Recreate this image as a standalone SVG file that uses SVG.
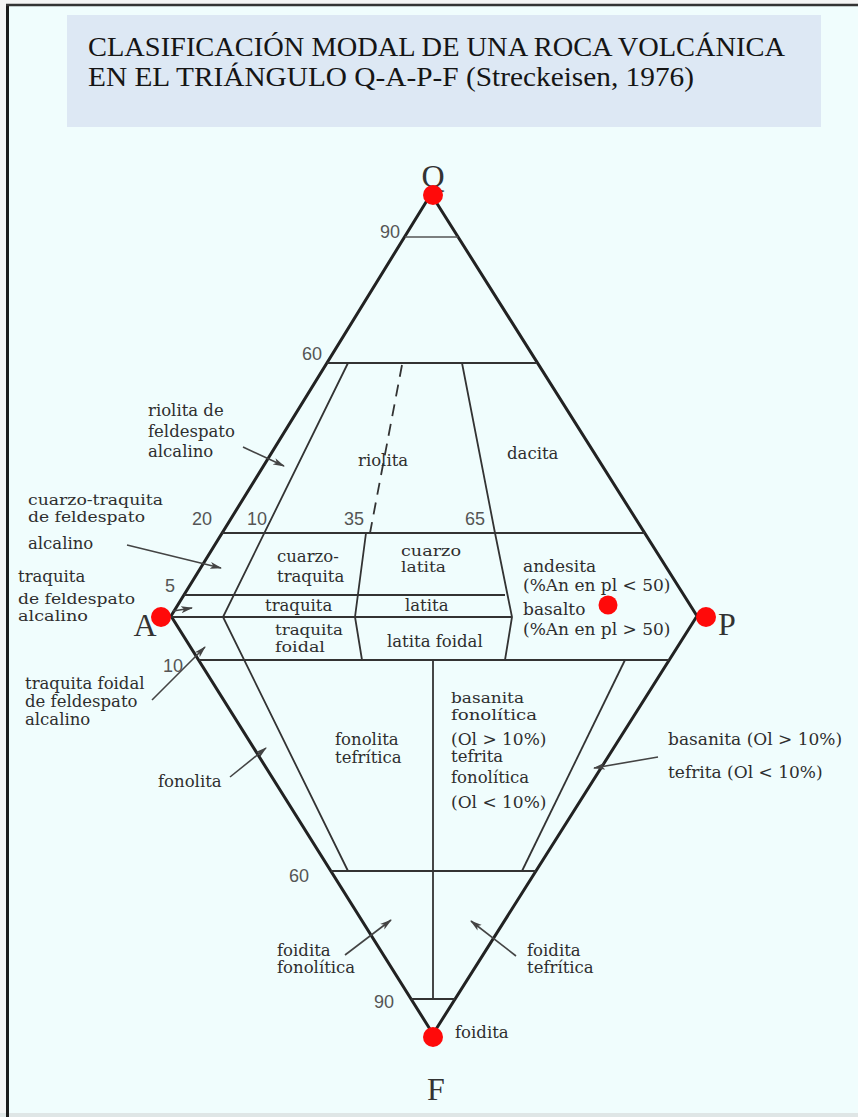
<svg xmlns="http://www.w3.org/2000/svg" width="858" height="1117" viewBox="0 0 858 1117">
  <defs>
    <marker id="ah" viewBox="0 0 12 8" refX="11" refY="4" markerWidth="12" markerHeight="8" markerUnits="userSpaceOnUse" orient="auto">
      <path d="M0,0.5 L12,4 L0,7.5 L3,4 Z" fill="#444"/>
    </marker>
    <style>
      .edge { stroke: #222; stroke-width: 3; fill: none; stroke-linecap: round; }
      .div { stroke: #333; stroke-width: 1.8; fill: none; }
      .thin { stroke: #555; stroke-width: 1.5; fill: none; }
      .dash { stroke: #333; stroke-width: 1.8; fill: none; stroke-dasharray: 12 8; }
      .arr { stroke: #444; stroke-width: 1.6; fill: none; marker-end: url(#ah); }
      .lbl { font-family: "DejaVu Serif", serif; font-size: 16.5px; fill: #2e2e2e; }
      .sm { font-family: "DejaVu Serif", serif; font-size: 15px; fill: #2e2e2e; }
      .lbr { font-family: "DejaVu Serif", serif; font-size: 17px; fill: #2e2e2e; }
      .num { font-family: "Liberation Sans", sans-serif; font-size: 18px; fill: #555; }
      .vtx { font-family: "Liberation Serif", serif; font-size: 32px; fill: #333; }
      .title { font-family: "Liberation Serif", serif; font-size: 28px; fill: #151515; }
      .dot { fill: #ff0a0a; }
    </style>
  </defs>

  <!-- frame -->
  <g id="frame">
    <rect x="0" y="0" width="858" height="1117" fill="#f0fdfd"/>
    <rect x="0" y="0" width="6" height="1117" fill="#f4f4f4"/>
    <rect x="0" y="0" width="858" height="4" fill="#f4f4f4"/>
    <rect x="0" y="1113" width="858" height="4" fill="#dfe6e6"/>
    <line x1="7.5" y1="4" x2="7.5" y2="1117" stroke="#1a1a1a" stroke-width="3"/>
    <line x1="6" y1="5" x2="858" y2="5" stroke="#333" stroke-width="2.5"/>
  </g>

  <!-- title -->
  <g id="title">
    <rect x="67" y="15" width="754" height="112" fill="#dde8f4"/>
    <text class="title" x="88" y="56" textLength="697" lengthAdjust="spacingAndGlyphs">CLASIFICACIÓN MODAL DE UNA ROCA VOLCÁNICA</text>
    <text class="title" x="88" y="86" textLength="606" lengthAdjust="spacingAndGlyphs">EN EL TRIÁNGULO Q-A-P-F (Streckeisen, 1976)</text>
  </g>

  <!-- diagram lines -->
  <g id="diagram-lines">
    <path class="edge" d="M431,194 L171,616 L433,1034 L697,616 Z"/>
    <line class="thin" x1="405" y1="237" x2="458" y2="237"/>
    <line class="div" x1="327" y1="363" x2="537" y2="363"/>
    <line class="div" x1="222" y1="533" x2="645" y2="533"/>
    <line class="div" x1="184" y1="595" x2="505" y2="595"/>
    <line class="div" x1="171" y1="617" x2="512" y2="617"/>
    <line class="div" x1="199" y1="660" x2="669" y2="660"/>
    <line class="div" x1="331" y1="871" x2="536" y2="871"/>
    <line class="div" x1="411" y1="999" x2="455" y2="999"/>
    <polyline class="div" points="348,363 223,617 348,871"/>
    <line class="dash" x1="402" y1="365" x2="370" y2="533"/>
    <polyline class="div" points="366,533 355,617 362,660"/>
    <polyline class="div" points="462,363 495,533 512,617 505,660"/>
    <line class="div" x1="433" y1="660" x2="433" y2="999"/>
    <line class="div" x1="625" y1="660" x2="522" y2="871"/>
  </g>

  <!-- connectors (label arrows) -->
  <g id="connectors">
    <line class="arr" x1="243" y1="447" x2="284" y2="466"/>
    <line class="arr" x1="127" y1="545" x2="221" y2="568"/>
    <line class="arr" x1="173" y1="611" x2="192" y2="608"/>
    <line class="arr" x1="152" y1="700" x2="205" y2="647"/>
    <line class="arr" x1="230" y1="777" x2="266" y2="748"/>
    <line class="arr" x1="658" y1="757" x2="594" y2="768"/>
    <line class="arr" x1="345" y1="955" x2="391" y2="920"/>
    <line class="arr" x1="516" y1="956" x2="471" y2="921"/>
  </g>

  <!-- scale numbers -->
  <g id="numbers">
    <text class="num" x="380" y="238">90</text>
    <text class="num" x="302" y="360">60</text>
    <text class="num" x="192" y="525">20</text>
    <text class="num" x="247" y="525">10</text>
    <text class="num" x="344" y="525">35</text>
    <text class="num" x="465" y="525">65</text>
    <text class="num" x="165" y="592">5</text>
    <text class="num" x="163" y="672">10</text>
    <text class="num" x="289" y="882">60</text>
    <text class="num" x="374" y="1008">90</text>
  </g>

  <!-- vertices -->
  <g id="vertex-Q">
    <text class="vtx" x="433" y="187" text-anchor="middle">Q</text>
    <circle class="dot" cx="433" cy="195" r="10"/>
  </g>
  <g id="vertex-A">
    <text class="vtx" x="145" y="636" text-anchor="middle">A</text>
    <circle class="dot" cx="161" cy="617" r="10"/>
  </g>
  <g id="vertex-P">
    <text class="vtx" x="718" y="635">P</text>
    <circle class="dot" cx="706" cy="617" r="10"/>
  </g>
  <g id="vertex-F">
    <text class="vtx" x="436" y="1100" text-anchor="middle">F</text>
    <circle class="dot" cx="433" cy="1037" r="10"/>
    <text class="lbl" x="455" y="1038">foidita</text>
  </g>
  <g id="sample-point">
    <circle class="dot" cx="608" cy="605" r="9.5"/>
  </g>

  <!-- field labels -->
  <g id="field-labels">
    <text class="lbl" x="148" y="416">riolita de</text>
    <text class="lbl" x="148" y="437">feldespato</text>
    <text class="lbl" x="148" y="457">alcalino</text>

    <text class="lbl" x="358" y="466">riolita</text>
    <text class="lbl" x="507" y="459">dacita</text>

    <text class="sm" x="28" y="505" textLength="135" lengthAdjust="spacingAndGlyphs">cuarzo-traquita</text>
    <text class="sm" x="28" y="522" textLength="117" lengthAdjust="spacingAndGlyphs">de feldespato</text>
    <text class="lbl" x="28" y="549">alcalino</text>

    <text class="lbl" x="18" y="582">traquita</text>
    <text class="sm" x="18" y="604" textLength="117" lengthAdjust="spacingAndGlyphs">de feldespato</text>
    <text class="sm" x="18" y="621" textLength="70" lengthAdjust="spacingAndGlyphs">alcalino</text>

    <text class="lbl" x="277" y="562">cuarzo-</text>
    <text class="lbl" x="277" y="582">traquita</text>
    <text class="sm" x="401" y="556" textLength="60" lengthAdjust="spacingAndGlyphs">cuarzo</text>
    <text class="sm" x="401" y="572" textLength="45" lengthAdjust="spacingAndGlyphs">latita</text>

    <text class="lbl" x="265" y="611">traquita</text>
    <text class="lbl" x="405" y="611">latita</text>
    <text class="sm" x="275" y="635" textLength="68" lengthAdjust="spacingAndGlyphs">traquita</text>
    <text class="sm" x="275" y="652" textLength="50" lengthAdjust="spacingAndGlyphs">foidal</text>
    <text class="lbl" x="387" y="647">latita foidal</text>

    <text class="lbr" x="523" y="572">andesita</text>
    <text class="lbr" x="523" y="591">(%An en pl &lt; 50)</text>
    <text class="lbr" x="523" y="615">basalto</text>
    <text class="lbr" x="523" y="635">(%An en pl &gt; 50)</text>

    <text class="lbl" x="25" y="689">traquita foidal</text>
    <text class="lbl" x="25" y="707">de feldespato</text>
    <text class="lbl" x="25" y="725">alcalino</text>

    <text class="lbl" x="335" y="745">fonolita</text>
    <text class="lbl" x="335" y="763">tefrítica</text>
    <text class="lbl" x="158" y="787">fonolita</text>

    <text class="sm" x="451" y="703" textLength="73" lengthAdjust="spacingAndGlyphs">basanita</text>
    <text class="sm" x="451" y="720" textLength="86" lengthAdjust="spacingAndGlyphs">fonolítica</text>
    <text class="lbr" x="451" y="745">(Ol &gt; 10%)</text>
    <text class="lbl" x="451" y="762">tefrita</text>
    <text class="lbl" x="451" y="783">fonolítica</text>
    <text class="lbr" x="451" y="808">(Ol &lt; 10%)</text>

    <text class="lbr" x="668" y="745">basanita (Ol &gt; 10%)</text>
    <text class="lbr" x="668" y="778">tefrita (Ol &lt; 10%)</text>

    <text class="lbl" x="277" y="956">foidita</text>
    <text class="lbl" x="277" y="973">fonolítica</text>
    <text class="lbl" x="527" y="956">foidita</text>
    <text class="lbl" x="527" y="973">tefrítica</text>
  </g>
</svg>
